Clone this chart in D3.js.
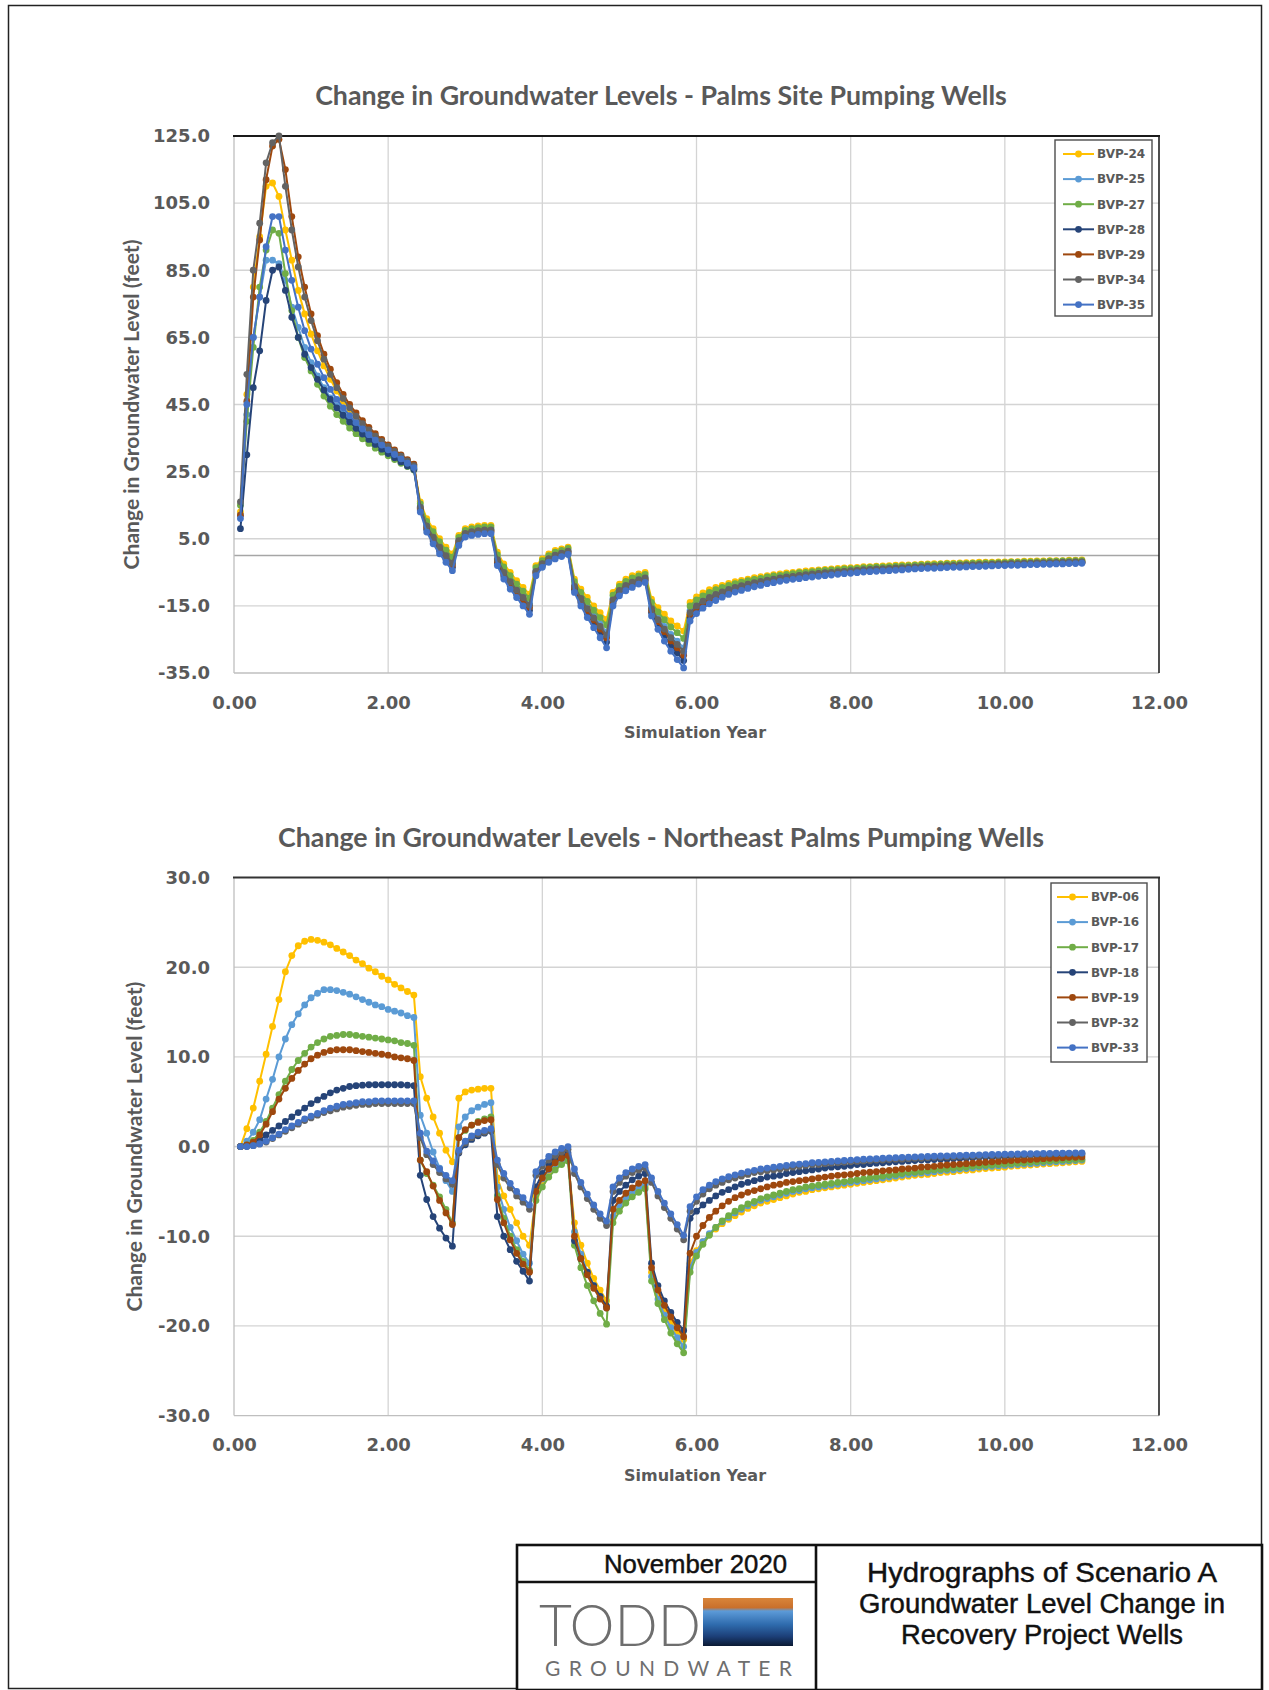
<!DOCTYPE html>
<html>
<head>
<meta charset="utf-8">
<script src="https://cdn.jsdelivr.net/npm/d3@7"></script>
<style>
  body { margin: 0; background: #fff; }
  svg { display: block; }
</style>
</head>
<body>
<div id="page"></div>
<script>
// monthly model output, month 1 .. month 132 (years 0.08 .. 11.00)
const months = d3.range(1, 133);

const xTicks = [0, 2, 4, 6, 8, 10, 12];
const palmsYTicks = [-35, -15, 5, 25, 45, 65, 85, 105, 125];
const nePalmsYTicks = [-30, -20, -10, 0, 10, 20, 30];

// ---- Palms Site pumping wells (change in level, feet)
const bvp24 = [13,48,80,95,110,111,107,97,88,79,72,66,61,56.5,52.5,49,46,43.5,41,39,37,35.3,33.7,32.2,30.8,29.4,28,26.5,
  16,11,8,5,2.5,0.5, 6,8,8.5,8.8,9,9, 1,-2.5,-5,-7.5,-9.5,-11.5, -3,-1,0.5,1.5,2,2.5,
  -7,-10,-12.5,-15,-17,-19, -11,-8.5,-7,-6,-5.5,-5, -13,-15.5,-17.5,-19.5,-21,-22.5,
  -14.0,-12.3,-11.1,-10.2,-9.5,-8.9,-8.3,-7.8,-7.4,-7.0,-6.6,-6.3,-6.0,-5.7,-5.5,-5.2,-5.0,-4.8,-4.6,-4.4,
  -4.3,-4.1,-4.0,-3.8,-3.7,-3.6,-3.5,-3.3,-3.3,-3.2,-3.1,-3.0,-2.9,-2.8,-2.8,-2.7,-2.6,-2.5,-2.4,-2.4,
  -2.3,-2.3,-2.2,-2.1,-2.1,-2.0,-2.0,-2.0,-1.9,-1.9,-1.8,-1.8,-1.7,-1.7,-1.6,-1.6,-1.5,-1.5,-1.5,-1.4,-1.4,-1.3];
const bvp25 = [12,42,65,77,88,88,87,82,74,68,62,57.5,53.5,50,47,44.5,42.2,40.2,38.3,36.6,35,33.5,32.1,30.8,29.5,28.3,27.1,26,
  14.6,9.2,6.0,3.0,0.5,-1.8, 4.6,6.9,7.4,7.7,7.9,7.9, -0.8,-4.5,-7.3,-9.8,-12,-14.2, -4.4,-2.1,-0.6,0.4,1.0,1.5,
  -8.8,-12.3,-15.2,-17.9,-20.4,-22.8, -12.8,-10.1,-8.6,-7.6,-6.9,-6.4, -15.3,-18.4,-21.1,-23.5,-25.5,-27.5,
  -16.4,-14.5,-13.1,-12.0,-11.2,-10.4,-9.7,-9.2,-8.7,-8.2,-7.8,-7.4,-7.0,-6.7,-6.5,-6.2,-5.9,-5.7,-5.5,-5.3,
  -5.1,-4.9,-4.8,-4.6,-4.5,-4.3,-4.2,-4.0,-3.9,-3.8,-3.7,-3.6,-3.5,-3.4,-3.4,-3.3,-3.2,-3.1,-3.0,-3.0,
  -2.9,-2.8,-2.8,-2.7,-2.6,-2.6,-2.5,-2.5,-2.4,-2.3,-2.3,-2.2,-2.2,-2.1,-2.1,-2.0,-2.0,-1.9,-1.9,-1.8,-1.8,-1.7];
const bvp27 = [15,40,62,80,91,97,96,84,73,65,59,55,51,47.5,44.5,42,40,38,36.3,34.8,33.4,32,30.8,29.7,28.6,27.5,26.5,25.5,
  15.4,10.2,7.1,4.1,1.6,-0.5, 5.4,7.5,8.0,8.3,8.5,8.5, 0.2,-3.4,-6,-8.5,-10.6,-12.7, -3.6,-1.5,0,1.0,1.5,2.1,
  -7.8,-11,-13.7,-16.3,-18.5,-20.7, -11.8,-9.2,-7.7,-6.7,-6.1,-5.6, -14,-16.8,-19.1,-21.3,-23,-24.7,
  -15.0,-13.2,-12.0,-11.0,-10.2,-9.5,-8.9,-8.4,-7.9,-7.5,-7.1,-6.8,-6.4,-6.1,-5.9,-5.6,-5.4,-5.1,-5.0,-4.8,
  -4.6,-4.4,-4.3,-4.2,-4.0,-3.9,-3.8,-3.6,-3.5,-3.4,-3.4,-3.3,-3.2,-3.1,-3.0,-2.9,-2.8,-2.7,-2.7,-2.6,
  -2.5,-2.5,-2.4,-2.4,-2.3,-2.3,-2.2,-2.2,-2.1,-2.1,-2.0,-2.0,-1.9,-1.9,-1.8,-1.8,-1.7,-1.7,-1.6,-1.6,-1.5,-1.5];
const bvp28 = [8,30,50,61,76,85,86,79,71,65,60,56,52.5,49.3,46.5,44,41.8,39.8,37.9,36.2,34.6,33.1,31.7,30.4,29.1,27.9,26.7,25.6,
  13.6,7.8,4.4,1.4,-1.1,-3.5, 3.6,6.0,6.5,6.8,7.0,7.0, -2.2,-6.1,-9,-11.5,-13.9,-16.3, -5.4,-3,-1.5,-0.5,0.2,0.7,
  -10.2,-14,-17.3,-20.2,-23,-25.8, -14.2,-11.3,-9.8,-8.8,-7.9,-7.4, -17,-20.7,-23.9,-26.7,-29,-31.3,
  -18.5,-16.4,-14.8,-13.6,-12.7,-11.8,-11.0,-10.4,-9.8,-9.3,-8.8,-8.4,-8.0,-7.6,-7.3,-7.0,-6.7,-6.5,-6.3,-6.0,
  -5.8,-5.6,-5.4,-5.3,-5.1,-5.0,-4.8,-4.6,-4.5,-4.4,-4.3,-4.2,-4.1,-4.0,-3.9,-3.8,-3.7,-3.6,-3.5,-3.5,
  -3.3,-3.3,-3.2,-3.1,-3.1,-3.0,-3.0,-2.9,-2.8,-2.8,-2.7,-2.7,-2.6,-2.5,-2.5,-2.4,-2.4,-2.3,-2.3,-2.2,-2.2,-2.1];
const bvp29 = [12,46,77,94,112,122,124,115,101,89,80,72,65.5,60,55.5,51.5,48,45,42.5,40.2,38.2,36.3,34.6,33,31.5,30,28.6,27.2,
  14.1,8.4,5.1,2.1,-0.4,-2.8, 4.1,6.4,6.9,7.2,7.4,7.4, -1.6,-5.4,-8.3,-10.8,-13.1,-15.4, -5,-2.6,-1.1,-0.1,0.5,1.1,
  -9.6,-13.3,-16.4,-19.2,-21.9,-24.5, -13.6,-10.8,-9.3,-8.3,-7.5,-7, -16.3,-19.7,-22.7,-25.4,-27.5,-29.7,
  -17.6,-15.5,-14.1,-13.0,-12.0,-11.2,-10.5,-9.8,-9.3,-8.8,-8.4,-8.0,-7.6,-7.3,-6.9,-6.6,-6.4,-6.1,-5.9,-5.7,
  -5.5,-5.3,-5.2,-5.0,-4.8,-4.7,-4.5,-4.4,-4.3,-4.2,-4.1,-4.0,-3.9,-3.8,-3.7,-3.6,-3.5,-3.3,-3.3,-3.2,
  -3.1,-3.1,-3.0,-2.9,-2.9,-2.8,-2.8,-2.7,-2.6,-2.6,-2.5,-2.5,-2.4,-2.4,-2.3,-2.3,-2.2,-2.2,-2.1,-2.1,-2.0,-2.0];
const bvp34 = [16,54,85,99,117,123,125,110,97,86,77,70,64,58.5,54,50,46.8,44,41.5,39.3,37.4,35.6,34,32.5,31,29.6,28.2,26.8,
  14.4,8.8,5.5,2.5,0,-2.3, 4.4,6.6,7.1,7.4,7.6,7.6, -1.2,-5,-7.8,-10.3,-12.5,-14.8, -4.7,-2.4,-0.9,0.1,0.7,1.3,
  -9.2,-12.8,-15.8,-18.6,-21.1,-23.7, -13.2,-10.4,-8.9,-7.9,-7.2,-6.7, -15.8,-19.1,-21.9,-24.5,-26.5,-28.5,
  -17.0,-15.0,-13.6,-12.5,-11.6,-10.8,-10.1,-9.5,-9.0,-8.5,-8.1,-7.7,-7.3,-7.0,-6.7,-6.4,-6.2,-5.9,-5.7,-5.5,
  -5.3,-5.1,-5.0,-4.8,-4.7,-4.5,-4.4,-4.2,-4.1,-4.0,-3.9,-3.8,-3.7,-3.6,-3.5,-3.4,-3.3,-3.2,-3.2,-3.1,
  -3.0,-3.0,-2.9,-2.8,-2.8,-2.7,-2.7,-2.6,-2.5,-2.5,-2.4,-2.4,-2.3,-2.3,-2.2,-2.2,-2.1,-2.1,-2.0,-2.0,-1.9,-1.9];
const bvp35 = [11,45,65,77,92,101,101,91,82,74,67,61.5,57,53,49.5,46.5,44,41.7,39.6,37.7,36,34.4,32.9,31.5,30.1,28.8,27.5,26.2,
  13,7,3.5,0.5,-2,-4.5, 3,5.5,6,6.3,6.5,6.5, -3,-7,-10,-12.5,-15,-17.5, -6,-3.5,-2,-1,-0.3,0.3,
  -11,-15,-18.5,-21.5,-24.5,-27.5, -15,-12,-10.5,-9.5,-8.5,-8, -18,-22,-25.5,-28.5,-31,-33.5,
  -19.5,-17.3,-15.7,-14.4,-13.4,-12.4,-11.6,-10.9,-10.4,-9.8,-9.3,-8.9,-8.4,-8.1,-7.7,-7.4,-7.1,-6.9,-6.6,-6.4,
  -6.2,-6.0,-5.8,-5.6,-5.4,-5.3,-5.1,-4.9,-4.8,-4.7,-4.6,-4.5,-4.4,-4.3,-4.1,-4.0,-3.9,-3.8,-3.8,-3.7,
  -3.6,-3.5,-3.5,-3.4,-3.3,-3.3,-3.2,-3.1,-3.0,-3.0,-2.9,-2.9,-2.8,-2.7,-2.7,-2.6,-2.6,-2.5,-2.5,-2.4,-2.4,-2.3];

// ---- Northeast Palms pumping wells (change in level, feet)
const bvp06 = [0,2.0,4.3,7.3,10.3,13.4,16.4,19.5,21.3,22.4,22.9,23.1,23.0,22.8,22.5,22.1,21.7,21.3,20.8,20.4,19.9,19.5,19.0,18.6,18.1,17.7,17.3,16.9,
  7.8,5.4,3.3,1.5,-0.4,-1.7, 5.4,6.1,6.3,6.4,6.5,6.5, -3.5,-5.5,-7,-8.5,-10,-11, -5.5,-4,-3,-2.3,-1.8,-1.5,
  -8.5,-11,-13,-14.7,-16,-17.2, -8,-6.8,-6,-5.3,-4.8,-4.4, -14,-16.5,-18.2,-19.5,-20.6,-21.5,
  -13.0,-11.6,-10.6,-9.8,-9.2,-8.6,-8.1,-7.7,-7.3,-6.9,-6.6,-6.3,-6.1,-5.9,-5.7,-5.5,-5.3,-5.1,-5.0,-4.8,
  -4.7,-4.6,-4.5,-4.4,-4.3,-4.2,-4.1,-4.0,-3.9,-3.8,-3.7,-3.6,-3.5,-3.4,-3.3,-3.2,-3.15,-3.1,-3.0,-2.9,
  -2.85,-2.8,-2.7,-2.65,-2.6,-2.5,-2.45,-2.4,-2.35,-2.3,-2.2,-2.15,-2.1,-2.05,-2.0,-1.95,-1.9,-1.85,-1.8,-1.75,-1.7,-1.65];
const bvp16 = [0,0.6,1.6,3.0,5.3,7.5,10.0,12.0,13.6,14.8,15.8,16.6,17.1,17.5,17.5,17.4,17.2,17.0,16.7,16.4,16.1,15.8,15.6,15.3,15.1,14.9,14.6,14.4,
  3.5,1.5,-0.6,-2.4,-3.8,-5.0, 2.2,3.3,4.0,4.4,4.7,4.9, -4.5,-7,-9,-10.5,-12,-13, -5,-3.6,-2.6,-2.0,-1.5,-1.2,
  -9.5,-12,-14,-15.5,-16.8,-18, -7.8,-6.6,-5.8,-5.1,-4.6,-4.2, -14.5,-17,-18.8,-20.2,-21.3,-22.3,
  -13.5,-11.8,-10.6,-9.7,-9.0,-8.4,-7.9,-7.4,-7.0,-6.6,-6.3,-6.0,-5.8,-5.6,-5.4,-5.2,-5.0,-4.9,-4.7,-4.6,
  -4.5,-4.4,-4.3,-4.2,-4.1,-4.0,-3.9,-3.8,-3.7,-3.6,-3.5,-3.4,-3.3,-3.2,-3.1,-3.0,-2.95,-2.9,-2.8,-2.7,
  -2.65,-2.6,-2.5,-2.45,-2.4,-2.3,-2.25,-2.2,-2.15,-2.1,-2.05,-2.0,-1.95,-1.9,-1.85,-1.8,-1.75,-1.7,-1.65,-1.6,-1.55,-1.5];
const bvp17 = [0,0.2,0.7,1.6,2.8,4.3,5.8,7.3,8.6,9.6,10.4,11.1,11.6,12.0,12.3,12.4,12.5,12.5,12.4,12.3,12.2,12.1,12.0,11.9,11.8,11.6,11.5,11.3,
  -1.5,-3.0,-4.3,-5.6,-7.0,-8.5, 1.0,1.8,2.4,2.8,3.1,3.3, -5.5,-8,-10,-11.5,-12.8,-13.8, -6,-4.5,-3.4,-2.6,-2.0,-1.6,
  -11,-13.5,-15.5,-17.2,-18.6,-19.8, -8.5,-7.2,-6.3,-5.6,-5.1,-4.7, -15,-17.5,-19.3,-20.8,-22,-23,
  -14.0,-12.2,-10.9,-9.9,-9.0,-8.3,-7.7,-7.2,-6.8,-6.4,-6.1,-5.8,-5.6,-5.4,-5.2,-5.0,-4.8,-4.7,-4.5,-4.4,
  -4.3,-4.2,-4.1,-4.0,-3.9,-3.8,-3.7,-3.6,-3.5,-3.4,-3.3,-3.2,-3.1,-3.0,-2.9,-2.85,-2.8,-2.7,-2.6,-2.55,
  -2.5,-2.4,-2.35,-2.3,-2.2,-2.15,-2.1,-2.05,-2.0,-1.95,-1.9,-1.85,-1.8,-1.75,-1.7,-1.65,-1.6,-1.55,-1.5,-1.5,-1.45,-1.4];
const bvp18 = [0,0.1,0.3,0.7,1.3,1.8,2.3,2.8,3.3,3.8,4.3,4.8,5.2,5.6,6.0,6.3,6.5,6.7,6.8,6.85,6.9,6.9,6.9,6.9,6.9,6.9,6.85,6.8,
  -3.2,-5.9,-7.8,-9.1,-10.2,-11.1, -0.7,0.2,0.8,1.2,1.5,1.7, -7.8,-10,-11.5,-12.8,-13.9,-15, -4.5,-3,-2,-1.4,-1.0,-0.7,
  -10.5,-12.5,-14,-15.5,-16.7,-17.8, -6,-5,-4.3,-3.7,-3.3,-3.0, -13,-15.5,-17.2,-18.5,-19.6,-20.5,
  -8.0,-7.2,-6.5,-6.0,-5.5,-5.1,-4.8,-4.5,-4.2,-4.0,-3.8,-3.6,-3.4,-3.3,-3.2,-3.0,-2.9,-2.8,-2.7,-2.6,
  -2.5,-2.4,-2.3,-2.25,-2.2,-2.1,-2.0,-2.0,-1.9,-1.85,-1.8,-1.75,-1.7,-1.65,-1.6,-1.55,-1.5,-1.5,-1.45,-1.4,
  -1.4,-1.35,-1.3,-1.3,-1.25,-1.2,-1.2,-1.15,-1.15,-1.1,-1.1,-1.05,-1.05,-1.0,-1.0,-1.0,-0.95,-0.95,-0.9,-0.9,-0.9,-0.9];
const bvp19 = [0,0.2,0.5,1.3,2.5,3.9,5.3,6.5,7.6,8.5,9.2,9.8,10.2,10.5,10.7,10.8,10.8,10.8,10.7,10.6,10.5,10.4,10.3,10.2,10.0,9.9,9.8,9.6,
  -1.5,-2.8,-4.4,-6.0,-7.4,-8.7, 1.0,1.9,2.4,2.7,2.9,3.0, -5.9,-8.5,-10.4,-11.9,-13.1,-14, -5,-3.5,-2.5,-1.8,-1.3,-1.0,
  -10,-12.5,-14.3,-15.8,-17,-18, -7,-6,-5.2,-4.6,-4.1,-3.8, -13.5,-16,-17.7,-19,-20.2,-21.2,
  -11.9,-10.0,-8.8,-7.9,-7.2,-6.6,-6.1,-5.7,-5.4,-5.1,-4.9,-4.7,-4.5,-4.3,-4.2,-4.0,-3.9,-3.8,-3.7,-3.6,
  -3.5,-3.4,-3.3,-3.2,-3.15,-3.1,-3.0,-2.9,-2.85,-2.8,-2.7,-2.65,-2.6,-2.5,-2.45,-2.4,-2.3,-2.25,-2.2,-2.1,
  -2.05,-2.0,-1.95,-1.9,-1.85,-1.8,-1.75,-1.7,-1.65,-1.6,-1.55,-1.5,-1.5,-1.45,-1.4,-1.35,-1.3,-1.3,-1.25,-1.2,-1.2,-1.15];
const bvp32 = [0,0,0.1,0.3,0.5,0.9,1.3,1.7,2.1,2.5,2.9,3.2,3.5,3.8,4.0,4.2,4.4,4.5,4.6,4.7,4.7,4.8,4.8,4.8,4.8,4.8,4.8,4.8,
  1.0,-0.9,-2.0,-2.9,-3.6,-4.2, -0.6,0.4,1.0,1.4,1.6,1.8, -2,-3.5,-4.6,-5.5,-6.2,-7, -3.2,-2.2,-1.5,-1.0,-0.6,-0.3,
  -3,-4.5,-5.8,-7,-8,-8.8, -5,-4,-3.3,-2.9,-2.6,-2.4, -4,-5.5,-6.8,-8,-9.2,-10.4,
  -7.2,-6.1,-5.3,-4.7,-4.3,-4.0,-3.7,-3.5,-3.3,-3.1,-2.9,-2.8,-2.7,-2.6,-2.5,-2.4,-2.3,-2.2,-2.1,-2.0,
  -2.0,-1.9,-1.85,-1.8,-1.75,-1.7,-1.65,-1.6,-1.55,-1.5,-1.5,-1.45,-1.4,-1.4,-1.35,-1.3,-1.3,-1.25,-1.2,-1.2,
  -1.15,-1.15,-1.1,-1.1,-1.05,-1.05,-1.0,-1.0,-1.0,-0.95,-0.95,-0.9,-0.9,-0.9,-0.85,-0.85,-0.85,-0.8,-0.8,-0.8,-0.8,-0.75];
const bvp33 = [0,0,0.1,0.3,0.6,1.0,1.4,1.9,2.3,2.7,3.1,3.4,3.7,4.0,4.3,4.5,4.7,4.8,4.9,5.0,5.0,5.1,5.1,5.1,5.1,5.1,5.1,5.1,
  1.5,-0.5,-1.6,-2.5,-3.2,-3.8, -0.4,0.6,1.2,1.6,1.8,2.0, -1.5,-3,-4.1,-5,-5.7,-6.5, -2.8,-1.8,-1.1,-0.6,-0.2,0.0,
  -2.5,-4,-5.3,-6.5,-7.5,-8.3, -4.5,-3.5,-2.9,-2.5,-2.2,-2.0, -3.5,-5,-6.3,-7.5,-8.7,-9.9,
  -6.7,-5.6,-4.8,-4.3,-3.9,-3.6,-3.35,-3.15,-2.95,-2.8,-2.65,-2.5,-2.4,-2.3,-2.2,-2.1,-2.0,-1.95,-1.9,-1.8,
  -1.75,-1.7,-1.65,-1.6,-1.55,-1.5,-1.45,-1.4,-1.38,-1.35,-1.3,-1.27,-1.24,-1.2,-1.18,-1.15,-1.12,-1.1,-1.07,-1.05,
  -1.03,-1.0,-0.98,-0.96,-0.94,-0.92,-0.9,-0.88,-0.86,-0.85,-0.83,-0.82,-0.8,-0.79,-0.78,-0.76,-0.75,-0.74,-0.73,-0.72,-0.71,-0.7];

const palmsWells = ["BVP-24", "BVP-25", "BVP-27", "BVP-28", "BVP-29", "BVP-34", "BVP-35"];
const palmsLevels = [bvp24, bvp25, bvp27, bvp28, bvp29, bvp34, bvp35];
const nePalmsWells = ["BVP-06", "BVP-16", "BVP-17", "BVP-18", "BVP-19", "BVP-32", "BVP-33"];
const nePalmsLevels = [bvp06, bvp16, bvp17, bvp18, bvp19, bvp32, bvp33];

const wellColors = ["#FFC000", "#5B9BD5", "#70AD47", "#264478", "#9E480E", "#636363", "#4472C4"];

const W = 1269, H = 1690;
const svg = d3.select("#page").append("svg").attr("width", W).attr("height", H);

const grey = "#595959";
const tickFont = "'DejaVu Sans', Verdana, sans-serif";
const titleFont = "Lato, 'Open Sans', sans-serif";

// shrink/grow a text so it spans a given width
function fitText(sel, width) {
  const w = sel.node().getComputedTextLength();
  const fs = parseFloat(sel.attr("font-size"));
  sel.attr("font-size", (fs * width / w).toFixed(2));
}

function drawChart(opt) {
  const left = 234, right = 1159;
  const x = d3.scaleLinear().domain([0, 12]).range([left, right]);
  const y = d3.scaleLinear().domain(opt.yDomain).range([opt.bottom, opt.top]);
  const g = svg.append("g");

  // gridlines
  g.append("g").selectAll("line")
    .data(xTicks.filter(d => d > 0 && d < 12))
    .join("line")
    .attr("x1", d => x(d)).attr("x2", d => x(d))
    .attr("y1", opt.top).attr("y2", opt.bottom)
    .attr("stroke", "#d4d4d4").attr("stroke-width", 1.3);
  g.append("g").selectAll("line")
    .data(opt.yTicks.filter(d => d > opt.yDomain[0] && d < opt.yDomain[1]))
    .join("line")
    .attr("x1", left).attr("x2", right)
    .attr("y1", d => y(d)).attr("y2", d => y(d))
    .attr("stroke", "#d4d4d4").attr("stroke-width", 1.3);

  // zero line
  g.append("line")
    .attr("x1", left).attr("x2", right).attr("y1", y(0)).attr("y2", y(0))
    .attr("stroke", opt.zeroColor).attr("stroke-width", 1.5);

  // frame of plot area
  g.append("line").attr("x1", left).attr("x2", left).attr("y1", opt.top).attr("y2", opt.bottom)
    .attr("stroke", "#bfbfbf").attr("stroke-width", 1.3);
  g.append("line").attr("x1", left).attr("x2", right).attr("y1", opt.bottom).attr("y2", opt.bottom)
    .attr("stroke", "#bfbfbf").attr("stroke-width", 1.3);
  g.append("line").attr("x1", left - 1).attr("x2", right + 1).attr("y1", opt.top).attr("y2", opt.top)
    .attr("stroke", opt.topColor).attr("stroke-width", 2);
  g.append("line").attr("x1", right).attr("x2", right).attr("y1", opt.top).attr("y2", opt.bottom)
    .attr("stroke", "#222").attr("stroke-width", 1.6);

  // axes
  const yAxis = g.append("g")
    .attr("transform", `translate(${left},0)`)
    .call(d3.axisLeft(y).tickValues(opt.yTicks).tickFormat(d => d.toFixed(1)).tickSize(0).tickPadding(24));
  const xAxis = g.append("g")
    .attr("transform", `translate(0,${opt.bottom})`)
    .call(d3.axisBottom(x).tickValues(xTicks).tickFormat(d => d.toFixed(2)).tickSize(0).tickPadding(23));
  [yAxis, xAxis].forEach(a => {
    a.select(".domain").remove();
    a.selectAll("text")
      .attr("fill", grey)
      .style("font-family", tickFont)
      .style("font-weight", "bold")
      .style("font-size", "18px");
  });

  // series
  const line = d3.line()
    .x((d, i) => x(months[i] / 12))
    .y(d => y(d));
  opt.levels.forEach((vals, s) => {
    const sg = g.append("g");
    sg.append("path")
      .attr("d", line(vals))
      .attr("fill", "none")
      .attr("stroke", wellColors[s])
      .attr("stroke-width", 2)
      .attr("stroke-linejoin", "round");
    sg.selectAll("circle")
      .data(vals)
      .join("circle")
      .attr("cx", (d, i) => x(months[i] / 12))
      .attr("cy", d => y(d))
      .attr("r", 3.4)
      .attr("fill", wellColors[s]);
  });

  // titles
  const t = g.append("text")
    .attr("x", 661).attr("y", opt.titleY)
    .attr("text-anchor", "middle")
    .attr("font-family", titleFont).attr("font-weight", "bold")
    .attr("font-size", 21).attr("fill", grey)
    .text(opt.title);
  fitText(t, opt.titleWidth);

  g.append("text")
    .attr("x", 695).attr("y", opt.bottom + 65)
    .attr("text-anchor", "middle")
    .attr("font-family", tickFont).attr("font-weight", "bold")
    .attr("font-size", 16).attr("fill", grey)
    .text("Simulation Year");

  const yt = g.append("text")
    .attr("transform", `translate(${opt.yTitleX},${(opt.top + opt.bottom) / 2}) rotate(-90)`)
    .attr("text-anchor", "middle")
    .attr("font-family", titleFont).attr("font-weight", "bold")
    .attr("font-size", 17).attr("fill", grey)
    .text("Change in Groundwater Level (feet)");
  fitText(yt, 330);

  // legend
  const lg = opt.legend;
  g.append("rect")
    .attr("x", lg.x).attr("y", lg.y).attr("width", lg.w).attr("height", lg.h)
    .attr("fill", "#fff").attr("stroke", "#4d4d4d").attr("stroke-width", 1.4);
  opt.wells.forEach((name, s) => {
    const cy = lg.y + 14 + s * 25.1;
    g.append("line")
      .attr("x1", lg.lineX0).attr("x2", lg.lineX1).attr("y1", cy).attr("y2", cy)
      .attr("stroke", wellColors[s]).attr("stroke-width", 2);
    g.append("circle")
      .attr("cx", (lg.lineX0 + lg.lineX1) / 2).attr("cy", cy).attr("r", 3.4)
      .attr("fill", wellColors[s]);
    g.append("text")
      .attr("x", lg.lineX1 + 3).attr("y", cy).attr("dy", "0.36em")
      .attr("font-family", tickFont).attr("font-weight", "bold")
      .attr("font-size", 12).attr("fill", grey)
      .text(name);
  });
}

// page frame
svg.append("rect")
  .attr("x", 8.5).attr("y", 5.5).attr("width", 1253).attr("height", 1683)
  .attr("fill", "none").attr("stroke", "#222").attr("stroke-width", 1.5);

drawChart({
  title: "Change in Groundwater Levels - Palms Site Pumping Wells",
  titleY: 105, titleWidth: 692,
  yDomain: [-35, 125], yTicks: palmsYTicks,
  top: 136, bottom: 673, yTitleX: 139,
  zeroColor: "#a6a6a6", topColor: "#1a1a1a",
  wells: palmsWells, levels: palmsLevels,
  legend: { x: 1055, y: 140, w: 97, h: 176, lineX0: 1063, lineX1: 1094 }
});

drawChart({
  title: "Change in Groundwater Levels - Northeast Palms Pumping Wells",
  titleY: 847, titleWidth: 766,
  yDomain: [-30, 30], yTicks: nePalmsYTicks,
  top: 877.6, bottom: 1415.6, yTitleX: 142,
  zeroColor: "#cccccc", topColor: "#333",
  wells: nePalmsWells, levels: nePalmsLevels,
  legend: { x: 1051, y: 883, w: 96, h: 179, lineX0: 1057, lineX1: 1088 }
});

// ---- title block
const tb = svg.append("g");
const blockFont = "'Liberation Sans', Arial, sans-serif";
tb.append("rect").attr("x", 517).attr("y", 1545).attr("width", 745).attr("height", 145)
  .attr("fill", "#fff").attr("stroke", "#111").attr("stroke-width", 2.6);
tb.append("line").attr("x1", 816).attr("x2", 816).attr("y1", 1545).attr("y2", 1690)
  .attr("stroke", "#111").attr("stroke-width", 2.6);
tb.append("line").attr("x1", 517).attr("x2", 816).attr("y1", 1582).attr("y2", 1582)
  .attr("stroke", "#111").attr("stroke-width", 2.6);

// narrow lettering: Arial-metric face squeezed to the measured widths
tb.append("text").attr("x", 604).attr("y", 1573)
  .attr("font-family", blockFont).attr("font-size", 25).attr("fill", "#111")
  .attr("stroke", "#111").attr("stroke-width", 0.45)
  .attr("textLength", 183).attr("lengthAdjust", "spacingAndGlyphs")
  .text("November 2020");

const blockLines = ["Hydrographs of Scenario A", "Groundwater Level Change in", "Recovery Project Wells"];
const blockWidths = [350, 366, 282];
tb.selectAll("text.bl").data(blockLines).join("text")
  .attr("class", "bl")
  .attr("x", (d, i) => 1042 - blockWidths[i] / 2).attr("y", (d, i) => 1582 + i * 31)
  .attr("font-family", blockFont).attr("font-size", 27).attr("fill", "#111")
  .attr("stroke", "#111").attr("stroke-width", 0.45)
  .attr("textLength", (d, i) => blockWidths[i]).attr("lengthAdjust", "spacingAndGlyphs")
  .text(d => d);

// logo
const defs = svg.append("defs");
const grad = defs.append("linearGradient").attr("id", "logoGrad")
  .attr("x1", 0).attr("y1", 0).attr("x2", 0).attr("y2", 1);
[["0%", "#d9853a"], ["20%", "#c9702c"], ["27%", "#5d9bd8"], ["55%", "#2f6cae"], ["80%", "#1c3f78"], ["100%", "#0b1a33"]]
  .forEach(([o, c]) => grad.append("stop").attr("offset", o).attr("stop-color", c));
tb.append("rect").attr("x", 703).attr("y", 1598).attr("width", 90).attr("height", 48)
  .attr("fill", "url(#logoGrad)");

const todd = tb.append("text").attr("x", 539).attr("y", 1646)
  .attr("font-family", "Lato, 'Open Sans', sans-serif").attr("font-weight", 300)
  .attr("font-size", 66).attr("fill", "#6e6e6e").text("TODD");
fitText(todd, 162);

tb.append("text").attr("x", 545).attr("y", 1676)
  .attr("font-family", "Lato, 'Open Sans', sans-serif").attr("font-weight", 400)
  .attr("font-size", 21).attr("fill", "#6e6e6e")
  .attr("textLength", 247).attr("lengthAdjust", "spacing")
  .text("GROUNDWATER");
</script>
</body>
</html>
